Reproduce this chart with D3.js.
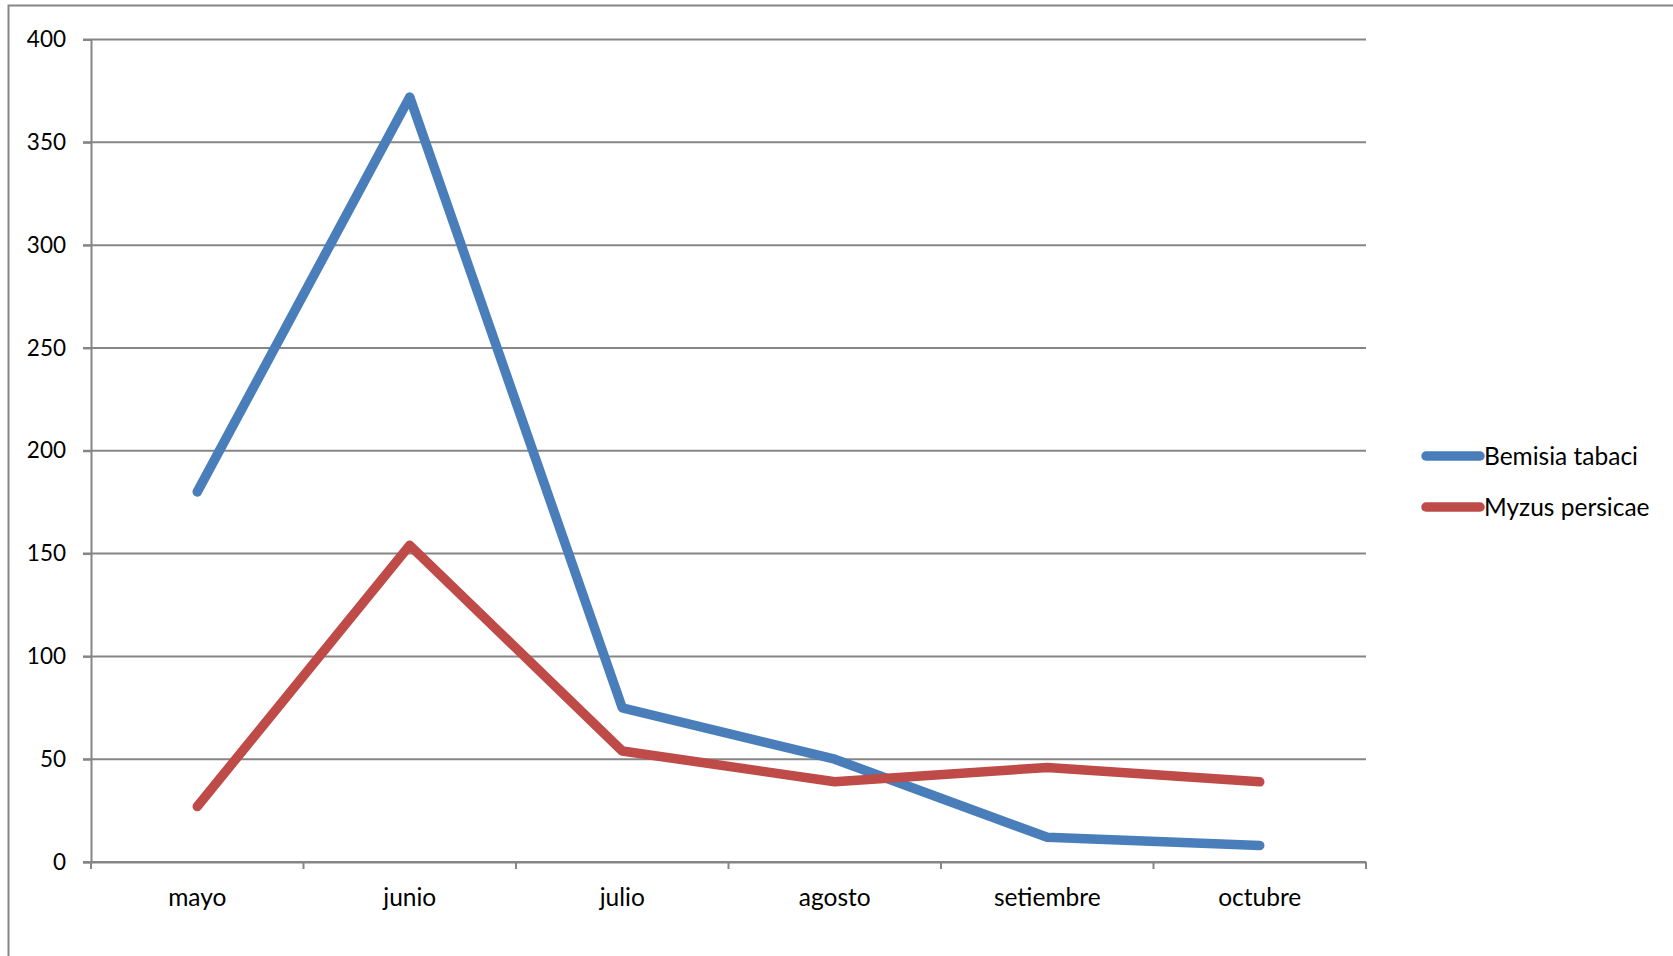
<!DOCTYPE html>
<html>
<head>
<meta charset="utf-8">
<script src="https://cdn.jsdelivr.net/npm/d3@7.9.0/dist/d3.min.js"></script>
<style>
  body { margin: 0; background: #fff; }
  svg { display: block; font-family: Lato, "Open Sans", sans-serif; }
</style>
</head>
<body>
<svg width="1673" height="956"></svg>
<script>
const months = ['mayo', 'junio', 'julio', 'agosto', 'setiembre', 'octubre'];
const bemisia = [180, 372, 75, 50, 12, 8];
const myzus = [27, 154, 54, 39, 46, 39];
const yTicks = [0, 50, 100, 150, 200, 250, 300, 350, 400];
const seriesNames = ['Bemisia tabaci', 'Myzus persicae'];
const seriesColors = ['#4A7EBB', '#BE4B48'];

const svg = d3.select('svg');
const margin = { left: 91, right: 1366, top: 39.5, bottom: 862 };

// chart border (only top and left visible in the original crop)
svg.append('path')
  .attr('d', 'M8.5,956 V5.5 H1673')
  .attr('fill', 'none')
  .attr('stroke', '#868686')
  .attr('stroke-width', 2);

const x = d3.scaleBand().domain(months).range([margin.left, margin.right]);
const y = d3.scaleLinear().domain([0, 400]).range([margin.bottom, margin.top]);

// gridlines
svg.append('g')
  .selectAll('line')
  .data(yTicks)
  .join('line')
  .attr('x1', margin.left - 8)
  .attr('x2', margin.right)
  .attr('y1', d => y(d))
  .attr('y2', d => y(d))
  .attr('stroke', '#868686')
  .attr('stroke-width', 2);

// y axis
const yAxis = svg.append('g')
  .attr('transform', `translate(${margin.left},0)`)
  .call(d3.axisLeft(y).tickValues(yTicks).tickSize(8).tickPadding(17));
yAxis.select('.domain').attr('stroke', '#868686').attr('stroke-width', 2);
yAxis.selectAll('.tick line').attr('stroke', '#868686').attr('stroke-width', 2);
yAxis.selectAll('.tick text')
  .attr('font-size', 22.5)
  .attr('font-family', 'Lato, sans-serif')
  .attr('fill', '#000');

// x axis with ticks at band boundaries
const xAxis = svg.append('g')
  .attr('transform', `translate(0,${margin.bottom})`)
  .call(d3.axisBottom(x).tickSize(0).tickPadding(27));
xAxis.select('.domain').attr('stroke', '#868686').attr('stroke-width', 2);
xAxis.selectAll('.tick text')
  .attr('font-size', 24.5)
  .attr('font-family', 'Lato, sans-serif')
  .attr('fill', '#000');

const bounds = months.map(m => x(m)).concat([x(months[months.length - 1]) + x.bandwidth()]);
svg.append('g')
  .selectAll('line')
  .data(bounds)
  .join('line')
  .attr('x1', d => d)
  .attr('x2', d => d)
  .attr('y1', margin.bottom)
  .attr('y2', margin.bottom + 7)
  .attr('stroke', '#868686')
  .attr('stroke-width', 2);

// lines
const line = d3.line()
  .x((d, i) => x(months[i]) + x.bandwidth() / 2)
  .y(d => y(d));

[bemisia, myzus].forEach((values, idx) => {
  svg.append('path')
    .datum(values)
    .attr('d', line)
    .attr('fill', 'none')
    .attr('stroke', seriesColors[idx])
    .attr('stroke-width', 9.5)
    .attr('stroke-linecap', 'round')
    .attr('stroke-linejoin', 'round');
});

// legend
const legend = svg.append('g');
seriesNames.forEach((name, idx) => {
  const ly = 456 + idx * 51;
  legend.append('line')
    .attr('x1', 1426).attr('x2', 1480)
    .attr('y1', ly).attr('y2', ly)
    .attr('stroke', seriesColors[idx])
    .attr('stroke-width', 9.5)
    .attr('stroke-linecap', 'round');
  legend.append('text')
    .attr('x', 1484)
    .attr('y', ly)
    .attr('dy', '0.36em')
    .attr('font-size', 24.5)
    .attr('fill', '#000')
    .text(name);
});
</script>
</body>
</html>
